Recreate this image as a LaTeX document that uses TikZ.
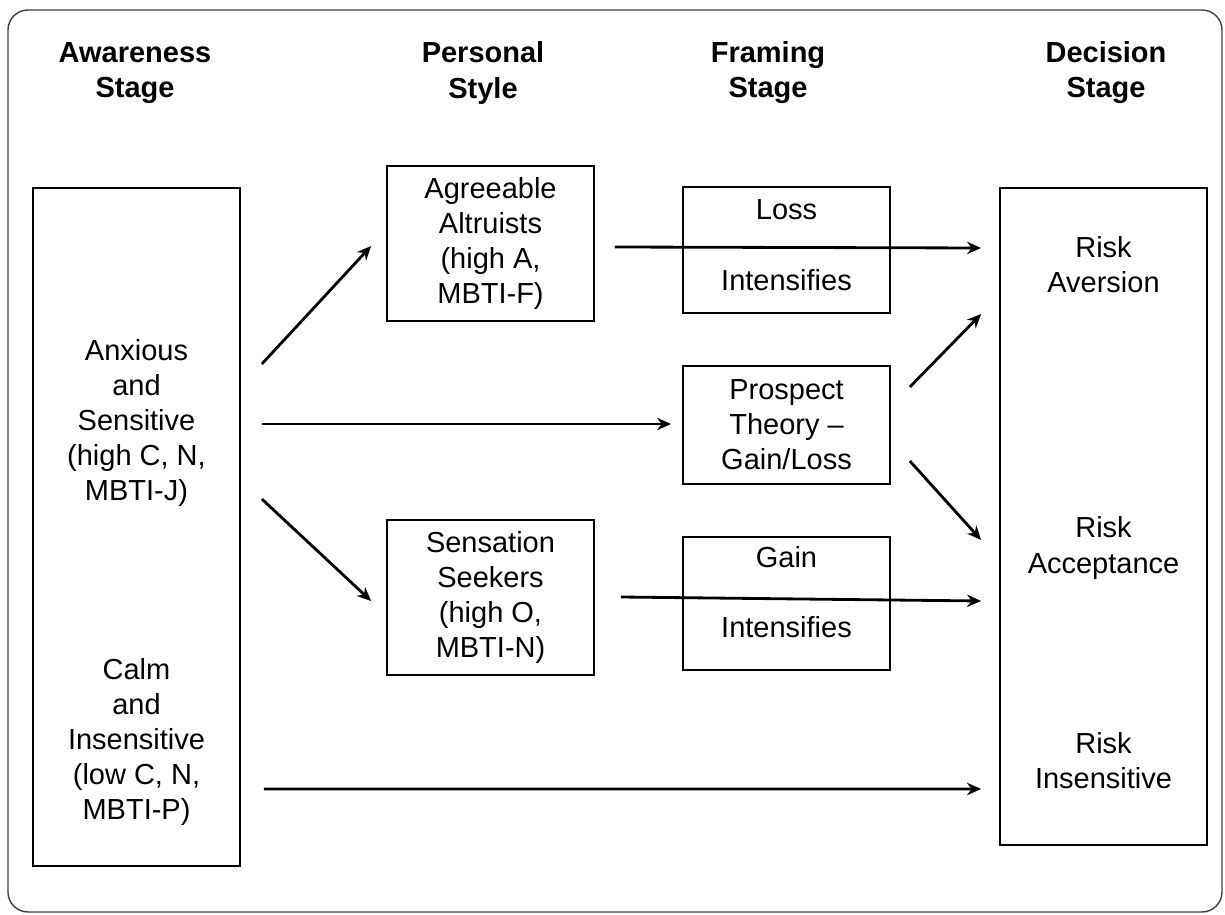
\documentclass[tikz,border=0pt]{standalone}
\usepackage{fontspec}
\setmainfont{Liberation Sans}
\usetikzlibrary{arrows.meta}

\begin{document}
\begin{tikzpicture}[x=0.02cm, y=-0.02cm,
	every node/.style={font=\fontsize{16.5}{20}\selectfont, align=center},
	head/.style={font=\fontsize{16.5}{20}\selectfont\bfseries},
	box/.style={shape=rectangle, draw=black, line width=1pt, minimum width=4.14cm, inner sep=0pt},
	arr/.style={-{Stealth[length=8pt,width=7pt]}, line width=1.6pt}]
	
	\useasboundingbox (0,0) rectangle (1225,915);
	\draw[draw=black!75, line width=0.8pt, rounded corners=0.4cm] (8,10) rectangle (1222,912);
	
	\node[head] (hAware)  at (135,73)  {Awareness\\Stage};
	\node[head] (hStyle)  at (483,73)  {Personal\\Style};
	\node[head] (hFrame)  at (768,73)  {Framing\\Stage};
	\node[head] (hDecide) at (1106,73) {Decision\\Stage};
	
	\node[box, minimum height=13.56cm] (aware) at (136.5,527) {};
	\node (anx)  at (136.5,423) {Anxious\\and\\Sensitive\\(high C, N,\\MBTI-J)};
	\node (calm) at (136.5,742) {Calm\\and\\Insensitive\\(low C, N,\\MBTI-P)};
	
	\node[box, minimum height=3.1cm] (agree) at (490.5,243.5) {Agreeable\\Altruists\\(high A,\\MBTI-F)};
	\node[box, minimum height=3.1cm] (sens)  at (490.5,597.5) {Sensation\\Seekers\\(high O,\\MBTI-N)};
	
	\node[box, minimum height=2.52cm, text depth=0.2cm]  (loss)  at (786.5,250)   {Loss\\[0.7cm]Intensifies};
	\node[box, minimum height=2.36cm]                    (prosp) at (786.5,425)   {Prospect\\Theory --\\Gain/Loss};
	\node[box, minimum height=2.66cm, text depth=0.45cm] (gain)  at (786.5,603.5) {Gain\\[0.7cm]Intensifies};
	
	\node[box, minimum height=13.14cm] (decide) at (1103.5,516.5) {};
	\node (aversion) at (1103.5,265) {Risk\\Aversion};
	\node (accept)   at (1103.5,548) {Risk\\Acceptance};
	\node (insens)   at (1103.5,761) {Risk\\Insensitive};
	
	\path[arr] ([shift={(21,-163)}]aware.east) edge ([shift={(-15,2.5)}]agree.west);
	\path[arr] ([shift={(21,-103)}]aware.east) edge ([shift={(-11,-1)}]prosp.west);
	\path[arr] ([shift={(21,-28)}]aware.east) edge ([shift={(-15,3.5)}]sens.west);
	\path[arr] ([shift={(20,3.5)}]agree.east) edge ([shift={(-18,-268.5)}]decide.west);
	\path[arr] ([shift={(19,-38)}]prosp.east) edge ([shift={(-18,-202.5)}]decide.west);
	\path[arr] ([shift={(19,36)}]prosp.east) edge ([shift={(-18,23.5)}]decide.west);
	\path[arr] ([shift={(26,-0.5)}]sens.east) edge ([shift={(-18,84.5)}]decide.west);
	\path[arr] ([shift={(23,262)}]aware.east) edge ([shift={(-18,272.5)}]decide.west);
	
\end{tikzpicture}
\end{document}
